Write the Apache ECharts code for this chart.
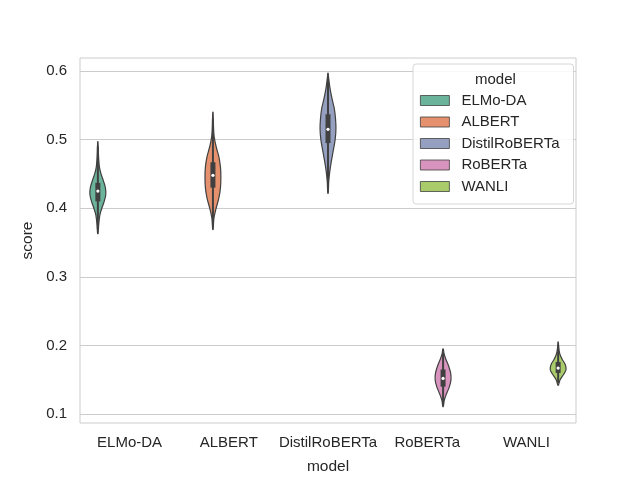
<!DOCTYPE html>
<html>
<head>
<meta charset="utf-8">
<script src="https://cdn.jsdelivr.net/npm/echarts@6/dist/echarts.min.js"></script>
<style>
  html, body { margin: 0; padding: 0; background: #fff; }
  #chart { width: 640px; height: 480px; }
</style>
</head>
<body>
<div id="chart"></div>
<script>
// categories / hue order
const models = ['ELMo-DA', 'ALBERT', 'DistilRoBERTa', 'RoBERTa', 'WANLI']
const colors = ['#6bb49b', '#e6916d', '#959fbf', '#d894bf', '#a9cb6a']

// violin density profiles: [score, relative half-width]
const elmoProfile = [[0.363, 0.03], [0.375, 0.1], [0.39, 0.25], [0.40, 0.5], [0.41, 0.8], [0.42, 1.0], [0.43, 0.95], [0.44, 0.7], [0.45, 0.4], [0.46, 0.2], [0.47, 0.12], [0.48, 0.07], [0.497, 0.02]]
const albertProfile = [[0.369, 0.03], [0.385, 0.12], [0.40, 0.4], [0.415, 0.75], [0.43, 0.95], [0.445, 1.0], [0.46, 0.95], [0.475, 0.75], [0.49, 0.4], [0.505, 0.15], [0.52, 0.07], [0.54, 0.02]]
const distilProfile = [[0.422, 0.03], [0.44, 0.1], [0.46, 0.3], [0.48, 0.6], [0.50, 0.9], [0.515, 1.0], [0.53, 0.95], [0.545, 0.8], [0.56, 0.5], [0.575, 0.25], [0.59, 0.08], [0.597, 0.02]]
const robertaProfile = [[0.111, 0.03], [0.12, 0.15], [0.13, 0.45], [0.14, 0.8], [0.15, 1.0], [0.16, 0.95], [0.17, 0.7], [0.18, 0.35], [0.188, 0.12], [0.195, 0.03]]
const wanliProfile = [[0.142, 0.03], [0.15, 0.25], [0.158, 0.7], [0.165, 1.0], [0.172, 0.9], [0.18, 0.5], [0.188, 0.2], [0.196, 0.08], [0.205, 0.02]]
const profiles = [elmoProfile, albertProfile, distilProfile, robertaProfile, wanliProfile]

// inner box: [whiskerLow, q1, median, q3, whiskerHigh]
const boxStats = [
    [0.37, 0.41, 0.425, 0.437, 0.49],
    [0.375, 0.43, 0.448, 0.467, 0.53],
    [0.43, 0.495, 0.515, 0.537, 0.59],
    [0.115, 0.14, 0.152, 0.165, 0.19],
    [0.145, 0.16, 0.167, 0.176, 0.2]
]

const yTicks = [0.1, 0.2, 0.3, 0.4, 0.5, 0.6]

const edge = '#404040'
const txt = '#262626'

function makeRender(hue) {
    return function (params, api) {
        const cat = api.value(0)
        const band = api.size([1, 0])[0]
        const cx = api.coord([cat, 0])[0] + (hue - 2) * 0.16 * band
        const halfMax = band * 0.08
        const prof = profiles[hue]
        const right = [], left = []
        prof.forEach(p => {
            const y = api.coord([cat, p[0]])[1]
            right.push([cx + halfMax * p[1], y])
            left.unshift([cx - halfMax * p[1], y])
        })
        const st = boxStats[hue]
        const yLo = api.coord([cat, st[0]])[1]
        const yQ1 = api.coord([cat, st[1]])[1]
        const yMed = api.coord([cat, st[2]])[1]
        const yQ3 = api.coord([cat, st[3]])[1]
        const yHi = api.coord([cat, st[4]])[1]
        return {
            type: 'group',
            children: [
                {
                    type: 'polygon',
                    shape: { points: right.concat(left), smooth: 0.35 },
                    style: { fill: colors[hue], stroke: edge, lineWidth: 1.2 }
                },
                {
                    type: 'line',
                    shape: { x1: cx, y1: yLo, x2: cx, y2: yHi },
                    style: { stroke: edge, lineWidth: 2 }
                },
                {
                    type: 'rect',
                    shape: { x: cx - 2.5, y: yQ3, width: 5, height: yQ1 - yQ3 },
                    style: { fill: edge }
                },
                {
                    type: 'circle',
                    shape: { cx: cx, cy: yMed, r: 1.6 },
                    style: { fill: '#ffffff' }
                }
            ]
        }
    }
}

const chart = echarts.init(document.getElementById('chart'))
const option = {
    animation: false,
    backgroundColor: '#ffffff',
    textStyle: { fontFamily: 'Liberation Sans, Arial, sans-serif' },
    grid: {
        left: 80, right: 64, top: 58, bottom: 52,
        show: true, borderColor: '#cccccc', borderWidth: 1
    },
    title: {
        text: 'model',
        left: 470, top: 67,
        textStyle: { fontSize: 15, fontWeight: 'normal', color: txt }
    },
    legend: {
        orient: 'vertical',
        left: 413, top: 64,
        width: 161,
        padding: [29, 14, 10, 7],
        backgroundColor: 'rgba(255,255,255,0.85)',
        borderColor: '#d6d6d6', borderWidth: 1, borderRadius: 3,
        itemWidth: 29, itemHeight: 10, itemGap: 6.5,
        icon: 'rect',
        itemStyle: { borderColor: edge, borderWidth: 0.8 },
        textStyle: { fontSize: 15, color: txt, padding: [0, 0, 0, 7] },
        data: models
    },
    xAxis: {
        type: 'category',
        data: models,
        name: 'model',
        nameLocation: 'middle',
        nameGap: 36,
        nameTextStyle: { fontSize: 15.5, color: txt },
        axisLine: { show: false },
        axisTick: { show: false },
        axisLabel: { fontSize: 15, color: txt, margin: 12, interval: 0 }
    },
    yAxis: {
        type: 'value',
        min: 0.087, max: 0.619,
        name: 'score',
        nameLocation: 'middle',
        nameGap: 40,
        nameTextStyle: { fontSize: 15.5, color: txt },
        axisLine: { show: false },
        axisTick: { show: false, customValues: yTicks },
        axisLabel: {
            fontSize: 15, color: txt, margin: 13,
            customValues: yTicks,
            formatter: v => v.toFixed(1)
        },
        splitLine: { show: true, lineStyle: { color: '#cccccc', width: 1 } }
    },
    series: models.map((m, i) => ({
        name: m,
        type: 'custom',
        itemStyle: { color: colors[i] },
        renderItem: makeRender(i),
        data: [[i]],
        z: 3
    }))
}
chart.setOption(option)
</script>
</body>
</html>
